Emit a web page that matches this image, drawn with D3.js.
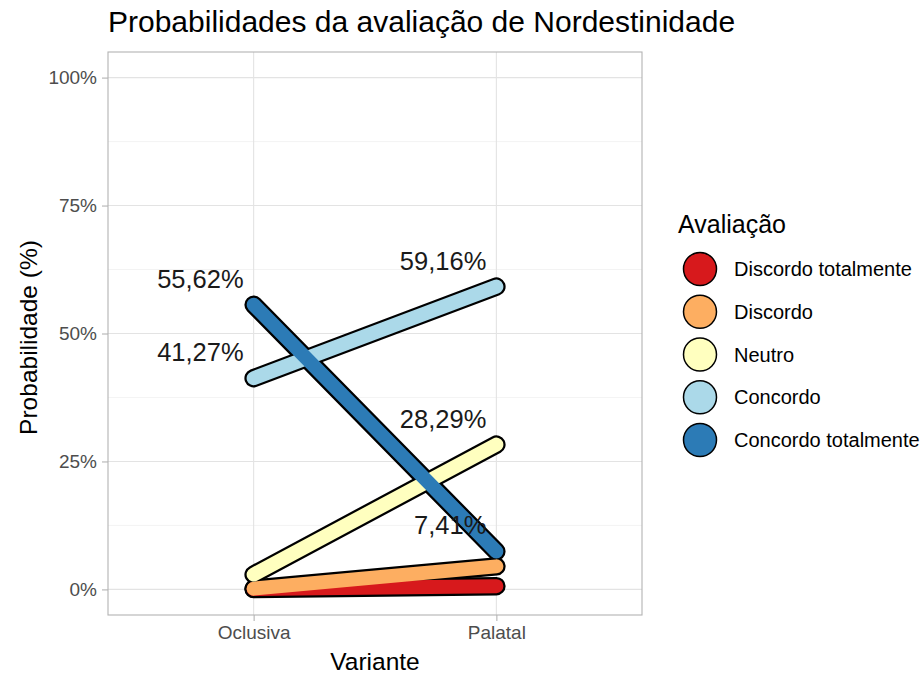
<!DOCTYPE html>
<html>
<head>
<meta charset="utf-8">
<script src="https://cdn.jsdelivr.net/npm/d3@7"></script>
<style>
  body { margin: 0; background: #fff; }
  svg { display: block; }
  text { font-family: "Liberation Sans", Arial, Helvetica, sans-serif; }
</style>
</head>
<body>
<svg id="chart" width="922" height="675"></svg>
<script>
// ---- data ----
const variants = ["Oclusiva", "Palatal"];
const categories = ["Discordo totalmente", "Discordo", "Neutro", "Concordo", "Concordo totalmente"];
const colors = ["#d7191c", "#fdae61", "#ffffbf", "#abd9e9", "#2c7bb6"];
const oclusiva = [0.06, 0.15, 2.90, 41.27, 55.62];
const palatal  = [0.64, 4.50, 28.29, 59.16, 7.41];
const yTicks = [0, 25, 50, 75, 100];
const yMinor = [12.5, 37.5, 62.5, 87.5];
const labelThreshold = 5;

// ---- layout ----
const svg = d3.select("#chart");
const panel = { left: 108, right: 642, top: 52, bottom: 615 };

const x = d3.scalePoint().domain(variants).range([panel.left, panel.right]).padding(0.6);
const y = d3.scaleLinear().domain([-5, 105]).range([panel.bottom, panel.top]);

const series = categories.map((c, i) => ({
  name: c,
  color: colors[i],
  values: [{ v: variants[0], p: oclusiva[i] }, { v: variants[1], p: palatal[i] }]
}));

// panel background grid
const g = svg.append("g");
g.selectAll("line.minor").data(yMinor).join("line")
  .attr("x1", panel.left).attr("x2", panel.right)
  .attr("y1", d => y(d)).attr("y2", d => y(d))
  .attr("stroke", "#EBEBEB").attr("stroke-width", 0.6);
g.selectAll("line.major").data(yTicks).join("line")
  .attr("x1", panel.left).attr("x2", panel.right)
  .attr("y1", d => y(d)).attr("y2", d => y(d))
  .attr("stroke", "#E3E3E3").attr("stroke-width", 1.1);
g.selectAll("line.vmajor").data(variants).join("line")
  .attr("x1", d => x(d)).attr("x2", d => x(d))
  .attr("y1", panel.top).attr("y2", panel.bottom)
  .attr("stroke", "#E3E3E3").attr("stroke-width", 1.1);

// axes
const yAxis = d3.axisLeft(y).tickValues(yTicks).tickFormat(d => d + "%").tickSize(6).tickPadding(5);
const xAxis = d3.axisBottom(x).tickSize(6).tickPadding(5);
const ya = svg.append("g").attr("transform", `translate(${panel.left},0)`).call(yAxis);
const xa = svg.append("g").attr("transform", `translate(0,${panel.bottom})`).call(xAxis);
[ya, xa].forEach(a => {
  a.select(".domain").remove();
  a.selectAll(".tick line").attr("stroke", "#B3B3B3").attr("stroke-width", 1.1);
  a.selectAll(".tick text").attr("fill", "#4D4D4D").style("font-size", "19px")
    .style("font-family", "'Liberation Sans', Arial, sans-serif");
});

// panel border
svg.append("rect")
  .attr("x", panel.left).attr("y", panel.top)
  .attr("width", panel.right - panel.left).attr("height", panel.bottom - panel.top)
  .attr("fill", "none").attr("stroke", "#B3B3B3").attr("stroke-width", 1.1);

// lines: black outline layer, then colour layer
const line = d3.line().x(d => x(d.v)).y(d => y(d.p));
svg.append("g").selectAll("path").data(series).join("path")
  .attr("d", d => line(d.values))
  .attr("fill", "none").attr("stroke", "#000").attr("stroke-width", 18.5)
  .attr("stroke-linecap", "round").attr("stroke-linejoin", "round");
svg.append("g").selectAll("path").data(series).join("path")
  .attr("d", d => line(d.values))
  .attr("fill", "none").attr("stroke", d => d.color).attr("stroke-width", 14)
  .attr("stroke-linecap", "round").attr("stroke-linejoin", "round");

// value labels
const fmt = v => v.toFixed(2).replace(".", ",") + "%";
const labelData = series.flatMap(s => s.values).filter(d => d.p > labelThreshold);
svg.append("g").selectAll("text").data(labelData).join("text")
  .attr("x", d => x(d.v) - 10)
  .attr("y", d => y(d.p) - 17)
  .attr("text-anchor", "end")
  .attr("fill", "#1a1a1a")
  .style("font-size", "25.5px")
  .text(d => fmt(d.p));

// title
svg.append("text").attr("x", 108).attr("y", 32)
  .attr("fill", "#000").style("font-size", "30px")
  .text("Probabilidades da avaliação de Nordestinidade");

// axis titles
svg.append("text").attr("x", (panel.left + panel.right) / 2).attr("y", 670)
  .attr("text-anchor", "middle").attr("fill", "#000").style("font-size", "24.5px")
  .text("Variante");
svg.append("text")
  .attr("transform", `translate(37,${(panel.top + panel.bottom) / 2 + 4}) rotate(-90)`)
  .attr("text-anchor", "middle").attr("fill", "#000").style("font-size", "24.5px")
  .text("Probabilidade (%)");

// legend
const leg = svg.append("g");
leg.append("text").attr("x", 678).attr("y", 233).attr("fill", "#000")
  .style("font-size", "25px").text("Avaliação");
const items = leg.selectAll("g.item").data(series).join("g")
  .attr("transform", (d, i) => `translate(700,${269 + i * 42.75})`);
items.append("circle").attr("r", 16.5).attr("fill", d => d.color)
  .attr("stroke", "#000").attr("stroke-width", 1.5);
items.append("text").attr("x", 34).attr("y", 0).attr("dy", "0.35em")
  .attr("fill", "#000").style("font-size", "20px").text(d => d.name);
</script>
</body>
</html>
